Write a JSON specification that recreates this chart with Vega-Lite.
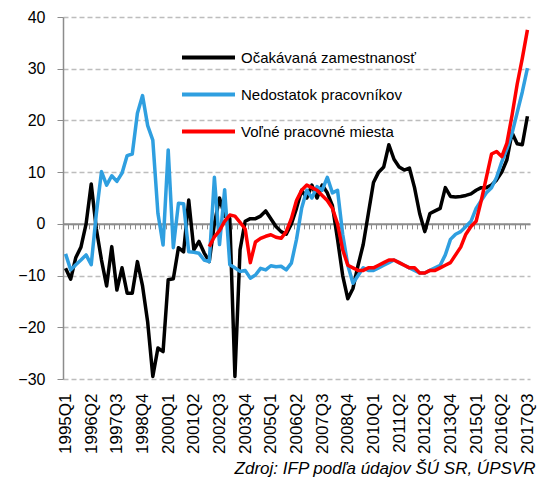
{
  "$schema": "https://vega.github.io/schema/vega-lite/v6.json",
  "autosize": "none",
  "width": 467,
  "height": 362,
  "padding": {"left": 63, "top": 17, "right": 7, "bottom": 110},
  "background": "white",
  "config": {"font": "Liberation Sans", "view": {"stroke": null}},
  "title": {"text": "Zdroj: IFP podľa údajov ŠÚ SR, ÚPSVR", "orient": "bottom", "anchor": "end", "fontStyle": "italic", "fontWeight": "normal", "fontSize": 17, "color": "black", "offset": 8, "dx": 0},
  "data": {"values": [
    {"q":"1995Q1","ocak":-8.6,"nedost":-5.8,"volne":null},
    {"q":"1995Q2","ocak":-10.7,"nedost":-8.9,"volne":null},
    {"q":"1995Q3","ocak":-6.5,"nedost":-7.9,"volne":null},
    {"q":"1995Q4","ocak":-4.5,"nedost":-7,"volne":null},
    {"q":"1996Q1","ocak":0,"nedost":-6,"volne":null},
    {"q":"1996Q2","ocak":7.7,"nedost":-7.9,"volne":null},
    {"q":"1996Q3","ocak":-1,"nedost":2,"volne":null},
    {"q":"1996Q4","ocak":-7,"nedost":10.1,"volne":null},
    {"q":"1997Q1","ocak":-12,"nedost":7.5,"volne":null},
    {"q":"1997Q2","ocak":-4.4,"nedost":9.3,"volne":null},
    {"q":"1997Q3","ocak":-12.8,"nedost":8.2,"volne":null},
    {"q":"1997Q4","ocak":-8.5,"nedost":9.8,"volne":null},
    {"q":"1998Q1","ocak":-13.4,"nedost":13.2,"volne":null},
    {"q":"1998Q2","ocak":-13.4,"nedost":13.5,"volne":null},
    {"q":"1998Q3","ocak":-7.3,"nedost":21.4,"volne":null},
    {"q":"1998Q4","ocak":-12,"nedost":24.8,"volne":null},
    {"q":"1999Q1","ocak":-19,"nedost":19,"volne":null},
    {"q":"1999Q2","ocak":-29.5,"nedost":16.2,"volne":null},
    {"q":"1999Q3","ocak":-24,"nedost":2,"volne":null},
    {"q":"1999Q4","ocak":-24.7,"nedost":-4.1,"volne":null},
    {"q":"2000Q1","ocak":-10.8,"nedost":14.3,"volne":null},
    {"q":"2000Q2","ocak":-10.6,"nedost":-4.6,"volne":null},
    {"q":"2000Q3","ocak":-4.6,"nedost":4,"volne":null},
    {"q":"2000Q4","ocak":-5.4,"nedost":3.9,"volne":null},
    {"q":"2001Q1","ocak":4.6,"nedost":-5.4,"volne":null},
    {"q":"2001Q2","ocak":-5,"nedost":-5.5,"volne":null},
    {"q":"2001Q3","ocak":-3.4,"nedost":-5.7,"volne":null},
    {"q":"2001Q4","ocak":-5.6,"nedost":-7,"volne":null},
    {"q":"2002Q1","ocak":-7.3,"nedost":-7.3,"volne":-4.4},
    {"q":"2002Q2","ocak":0,"nedost":9,"volne":-2.5},
    {"q":"2002Q3","ocak":5,"nedost":-4,"volne":-1.3},
    {"q":"2002Q4","ocak":1.5,"nedost":6.6,"volne":0.5},
    {"q":"2003Q1","ocak":1,"nedost":-7.9,"volne":1.7},
    {"q":"2003Q2","ocak":-29.5,"nedost":-8.5,"volne":1.5},
    {"q":"2003Q3","ocak":-5,"nedost":-9.2,"volne":0.3},
    {"q":"2003Q4","ocak":0.5,"nedost":-9,"volne":-1},
    {"q":"2004Q1","ocak":1,"nedost":-10.5,"volne":-7.5},
    {"q":"2004Q2","ocak":1,"nedost":-9.9,"volne":-3.5},
    {"q":"2004Q3","ocak":1.5,"nedost":-8.6,"volne":-2.8},
    {"q":"2004Q4","ocak":2.5,"nedost":-8.9,"volne":-2.4},
    {"q":"2005Q1","ocak":1,"nedost":-8.1,"volne":-2.1},
    {"q":"2005Q2","ocak":-0.5,"nedost":-8.3,"volne":-2.6},
    {"q":"2005Q3","ocak":-1.5,"nedost":-8.2,"volne":-2.8},
    {"q":"2005Q4","ocak":-2,"nedost":-8.9,"volne":-1.5},
    {"q":"2006Q1","ocak":0,"nedost":-7.6,"volne":1},
    {"q":"2006Q2","ocak":3,"nedost":-3,"volne":4.5},
    {"q":"2006Q3","ocak":6.5,"nedost":3,"volne":6.5},
    {"q":"2006Q4","ocak":5,"nedost":6.5,"volne":7.5},
    {"q":"2007Q1","ocak":7.5,"nedost":5,"volne":7},
    {"q":"2007Q2","ocak":5,"nedost":7.2,"volne":6.5},
    {"q":"2007Q3","ocak":7.5,"nedost":6.5,"volne":5.5},
    {"q":"2007Q4","ocak":6,"nedost":9,"volne":4.5},
    {"q":"2008Q1","ocak":3.5,"nedost":6,"volne":3},
    {"q":"2008Q2","ocak":-3,"nedost":6.5,"volne":0},
    {"q":"2008Q3","ocak":-10,"nedost":-2,"volne":-5},
    {"q":"2008Q4","ocak":-14.5,"nedost":-8,"volne":-8},
    {"q":"2009Q1","ocak":-12.5,"nedost":-11.5,"volne":-8.5},
    {"q":"2009Q2","ocak":-8,"nedost":-10,"volne":-9},
    {"q":"2009Q3","ocak":-4,"nedost":-8.5,"volne":-9},
    {"q":"2009Q4","ocak":2,"nedost":-9,"volne":-8.5},
    {"q":"2010Q1","ocak":8,"nedost":-9,"volne":-8.5},
    {"q":"2010Q2","ocak":10,"nedost":-8.5,"volne":-8},
    {"q":"2010Q3","ocak":11,"nedost":-8,"volne":-7.5},
    {"q":"2010Q4","ocak":15.3,"nedost":-7.5,"volne":-7},
    {"q":"2011Q1","ocak":12.5,"nedost":-7,"volne":-7},
    {"q":"2011Q2","ocak":11,"nedost":-7.5,"volne":-7.5},
    {"q":"2011Q3","ocak":10.4,"nedost":-8,"volne":-8},
    {"q":"2011Q4","ocak":10.8,"nedost":-8.5,"volne":-8.5},
    {"q":"2012Q1","ocak":7,"nedost":-9,"volne":-8.5},
    {"q":"2012Q2","ocak":2,"nedost":-9.5,"volne":-9.5},
    {"q":"2012Q3","ocak":-1.5,"nedost":-9.5,"volne":-9.5},
    {"q":"2012Q4","ocak":2,"nedost":-9,"volne":-9},
    {"q":"2013Q1","ocak":2.5,"nedost":-8.5,"volne":-9},
    {"q":"2013Q2","ocak":3,"nedost":-8,"volne":-8.5},
    {"q":"2013Q3","ocak":7,"nedost":-6,"volne":-8},
    {"q":"2013Q4","ocak":5.3,"nedost":-3,"volne":-7.5},
    {"q":"2014Q1","ocak":5.2,"nedost":-2,"volne":-6},
    {"q":"2014Q2","ocak":5.3,"nedost":-1.5,"volne":-4.5},
    {"q":"2014Q3","ocak":5.5,"nedost":-0.5,"volne":-2},
    {"q":"2014Q4","ocak":5.8,"nedost":0.5,"volne":-0.5},
    {"q":"2015Q1","ocak":6.5,"nedost":3,"volne":0.5},
    {"q":"2015Q2","ocak":7,"nedost":4.5,"volne":4.5},
    {"q":"2015Q3","ocak":7,"nedost":6,"volne":9},
    {"q":"2015Q4","ocak":7.5,"nedost":7,"volne":13.5},
    {"q":"2016Q1","ocak":8.5,"nedost":9,"volne":14},
    {"q":"2016Q2","ocak":10,"nedost":12,"volne":13},
    {"q":"2016Q3","ocak":12.4,"nedost":14.5,"volne":15.6},
    {"q":"2016Q4","ocak":17.6,"nedost":17.5,"volne":21},
    {"q":"2017Q1","ocak":15.5,"nedost":21.5,"volne":27},
    {"q":"2017Q2","ocak":15.3,"nedost":25.5,"volne":32},
    {"q":"2017Q3","ocak":20.8,"nedost":30.1,"volne":37.5}
  ]},
  "resolve": {"axis": {"x": "independent"}},
  "layer": [
    {
      "mark": {"type": "point", "opacity": 0},
      "encoding": {
        "x": {"field": "q", "type": "ordinal", "sort": null,
          "scale": {"type": "point", "padding": 0.5},
          "axis": {"orient": "bottom", "offset": -155.14, "labels": false, "title": null, "grid": false,
            "domainColor": "#8c8c8c", "domainWidth": 2, "tickColor": "#8c8c8c", "tickSize": 5, "tickWidth": 1,
            "tickOffset": -2.566}
        }
      }
    },
    {
      "transform": [{"fold": ["ocak", "nedost", "volne"], "as": ["s", "v"]}],
      "mark": {"type": "line", "strokeWidth": 3.5, "strokeJoin": "round"},
      "encoding": {
        "x": {"field": "q", "type": "ordinal", "sort": null,
          "scale": {"type": "point", "padding": 0.5},
          "axis": {"orient": "bottom", "title": null, "domain": false, "ticks": false, "grid": false,
            "labelAngle": -90, "labelPadding": 14, "labelFontSize": 17, "labelColor": "black",
            "values": ["1995Q1","1996Q2","1997Q3","1998Q4","2000Q1","2001Q2","2002Q3","2003Q4","2005Q1","2006Q2","2007Q3","2008Q4","2010Q1","2011Q2","2012Q3","2013Q4","2015Q1","2016Q2","2017Q3"]}
        },
        "y": {"field": "v", "type": "quantitative",
          "scale": {"domain": [-30, 40], "nice": false, "zero": false},
          "axis": {"title": null, "values": [-30,-20,-10,0,10,20,30,40], "grid": true,
            "gridDash": [5, 3], "gridColor": "#bdbdbd", "gridWidth": 1.3,
            "domainColor": "#8c8c8c", "domainWidth": 1.5, "tickColor": "#8c8c8c", "tickSize": 6,
            "labelPadding": 12, "labelFontSize": 16, "labelColor": "black"}
        },
        "color": {"field": "s", "type": "nominal",
          "scale": {"domain": ["ocak", "nedost", "volne"], "range": ["#000000", "#2f9fe0", "#ff0000"]},
          "legend": {"orient": "none", "legendX": 117, "legendY": 12, "title": null,
            "symbolType": "stroke", "symbolSize": 2809, "symbolStrokeWidth": 4,
            "labelFontSize": 15, "labelColor": "black", "labelOffset": 4, "rowPadding": -21, "labelLimit": 400,
            "labelExpr": "datum.label == 'ocak' ? 'Očakávaná zamestnanosť' : datum.label == 'nedost' ? 'Nedostatok pracovníkov' : 'Voľné pracovné miesta'"}
        }
      }
    }
  ]
}
